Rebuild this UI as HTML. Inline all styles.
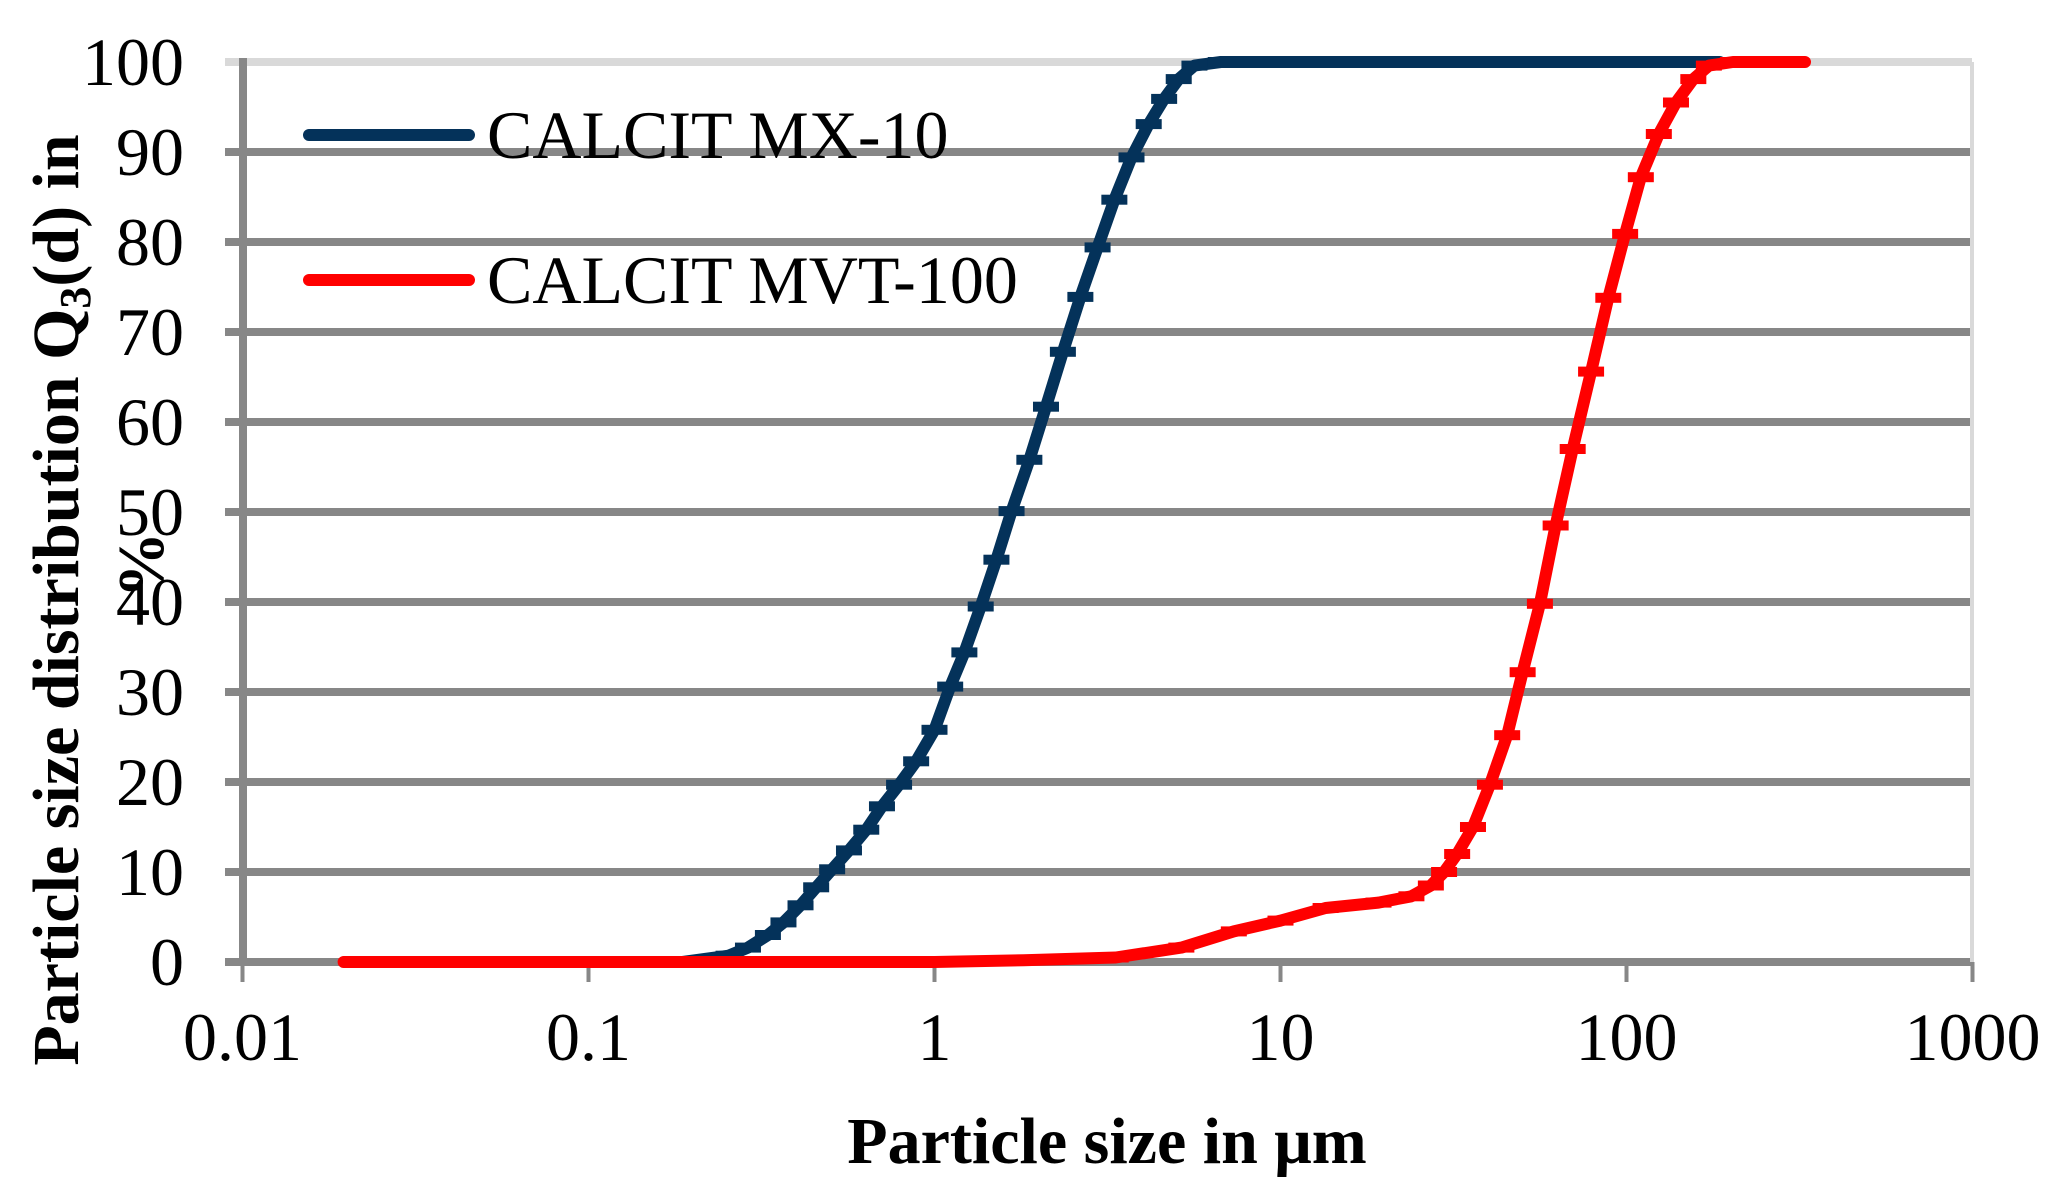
<!DOCTYPE html>
<html><head><meta charset="utf-8"><style>
body{margin:0;background:#fff;}
svg text{font-family:"Liberation Serif",serif;}
</style></head><body>
<svg id="chart" width="2055" height="1192" viewBox="0 0 2055 1192" xmlns="http://www.w3.org/2000/svg">
<g id="grid"></g><g id="axes"></g><g id="series"></g>
<g>
<line x1="309" y1="135" x2="469" y2="135" stroke="#04325a" stroke-width="12" stroke-linecap="round"/>
<text x="487" y="158" font-size="68">CALCIT MX-10</text>
<line x1="309" y1="280" x2="469" y2="280" stroke="#ff0000" stroke-width="12" stroke-linecap="round"/>
<text x="487" y="303" font-size="68">CALCIT MVT-100</text>
</g>
<text x="1107" y="1163" font-size="66" font-weight="bold" text-anchor="middle">Particle size in μm</text>
<text transform="translate(78,600) rotate(-90)" font-size="66" font-weight="bold" text-anchor="middle">Particle size distribution Q<tspan font-size="44" dy="12">3</tspan><tspan dy="-12">(d) in</tspan></text>
<text transform="translate(163,565) rotate(-90)" font-size="66" font-weight="bold" text-anchor="middle">%</text>
</svg>
<script>
const yTicks=[0,10,20,30,40,50,60,70,80,90,100];
const xTicks=[0.01,0.1,1,10,100,1000];
const xTickLabels=["0.01","0.1","1","10","100","1000"];
const mxSize=[0.187,0.254,0.289,0.330,0.366,0.410,0.455,0.506,0.566,0.635,0.705,0.790,0.885,1.0,1.11,1.22,1.36,1.51,1.67,1.88,2.10,2.35,2.64,2.96,3.31,3.71,4.16,4.61,5.08,5.64,6.72,186];
const mxQ3=[0,0.7,1.6,3,4.4,6.3,8.3,10.3,12.4,14.7,17.3,19.7,22.3,25.8,30.6,34.4,39.5,44.7,50.1,55.8,61.7,67.8,73.9,79.4,84.7,89.4,93.1,95.9,98.1,99.6,100,100];
const mvtSize=[0.0196,1.0,1.81,3.34,5.17,7.33,10.0,13.5,19.2,23.9,27.2,29.7,32.4,36.0,40.3,45.2,50.1,56.2,62.4,69.9,79.0,88.6,99.1,110,124,139,156,173,203,328];
const mvtQ3=[0,0,0.2,0.5,1.6,3.4,4.6,6,6.6,7.3,8.5,10,12,15,19.7,25.2,32.2,39.8,48.5,57,65.6,73.8,80.9,87.2,92,95.5,98.1,99.6,100,100];
const NS="http://www.w3.org/2000/svg";
const X0=242.5,DEC=346,Y0=962,YS=9;
function xs(d){return X0+DEC*(Math.log10(d)+2);}
function ys(p){return Y0-YS*p;}
function mk(tag,attrs,parent){const e=document.createElementNS(NS,tag);for(const k in attrs)e.setAttribute(k,attrs[k]);parent.appendChild(e);return e;}
const grid=document.getElementById('grid'),axes=document.getElementById('axes'),ser=document.getElementById('series');
yTicks.forEach(v=>{
  const l=mk('line',{x1:225,x2:1972,y1:ys(v),y2:ys(v),stroke:v===100?'#d9d9d9':'#878787','stroke-width':8},grid);
  
  
  const t=mk('text',{x:184,y:ys(v)+23,'font-size':68,'text-anchor':'end'},axes);
  t.textContent=v;
  
  
});
const rb=mk('line',{x1:1972,x2:1972,y1:ys(100),y2:ys(0),stroke:'#d9d9d9','stroke-width':4},grid);


const ya=mk('line',{x1:243,x2:243,y1:ys(100)-4,y2:ys(0),stroke:'#878787','stroke-width':8},axes);


xTicks.forEach((v,i)=>{
  const tk=mk('line',{x1:xs(v),x2:xs(v),y1:ys(0),y2:ys(0)+20,stroke:'#878787','stroke-width':4},axes);
  
  
  const t=mk('text',{x:xs(v),y:1060,'font-size':68,'text-anchor':'middle'},axes);
  t.textContent=xTickLabels[i];
  
  
});
function drawSeries(sz,q,color,name){
  const pts=sz.map((d,i)=>xs(d).toFixed(1)+','+ys(q[i]).toFixed(1)).join(' ');
  const pl=mk('polyline',{points:pts,fill:'none',stroke:color,'stroke-width':12,'stroke-linejoin':'round','stroke-linecap':'round'},ser);
  
  
  sz.forEach((d,i)=>{
    if(i===0||i===sz.length-1)return;
    const r=mk('rect',{x:xs(d)-13,y:ys(q[i])-5,width:26,height:10,fill:color},ser);
    
    
  });
}
drawSeries(mxSize,mxQ3,'#04325a','series-mx10');
drawSeries(mvtSize,mvtQ3,'#ff0000','series-mvt100');
</script>
</body></html>
